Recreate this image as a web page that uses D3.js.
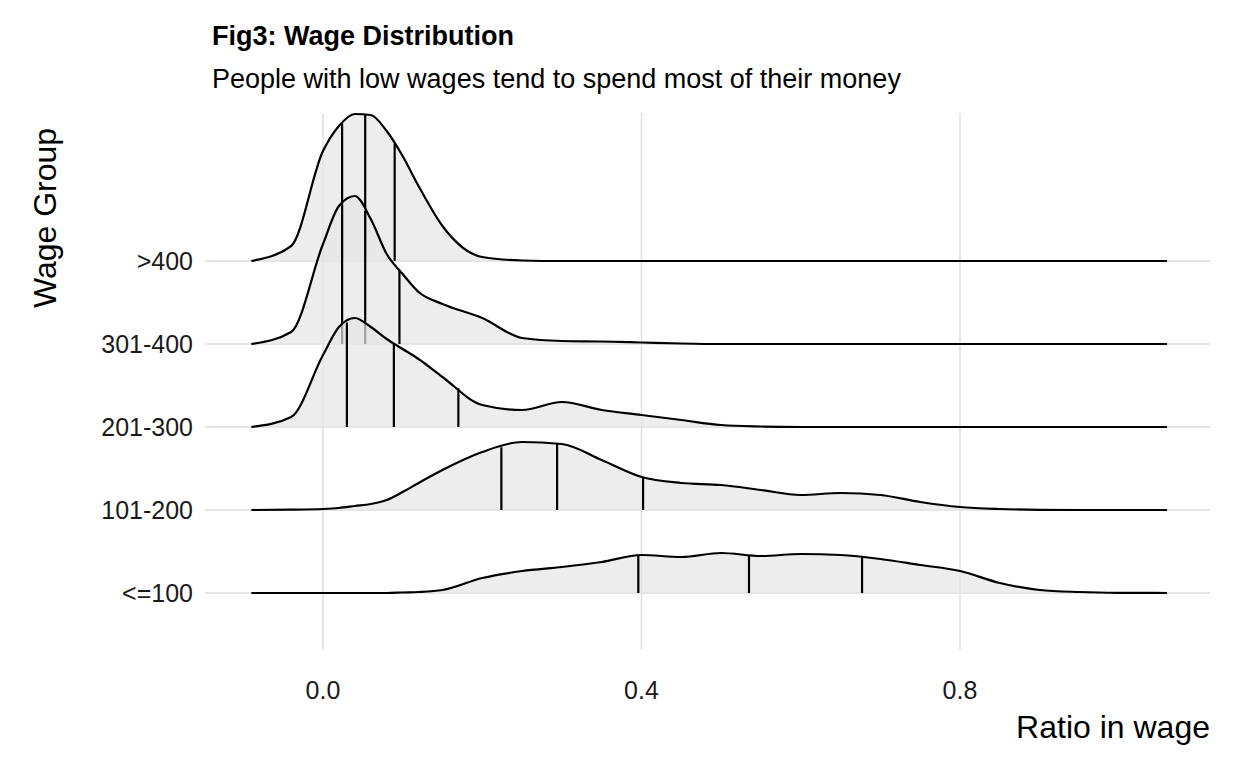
<!DOCTYPE html>
<html><head><meta charset="utf-8">
<script src="https://cdn.jsdelivr.net/npm/d3@7.9.0/dist/d3.min.js"></script>
<style>body{margin:0;background:#fff}text{font-family:"Liberation Sans",Arial,sans-serif}</style>
</head><body><svg id="c" width="1248" height="768"></svg>
<script>
const groups = ['>400', '301-400', '201-300', '101-200', '<=100'];
const xs = [-0.09,-0.04,0,0.02,0.04,0.06,0.08,0.1,0.12,0.15,0.2,0.25,0.3,0.35,0.4,0.45,0.5,0.55,0.6,0.65,0.7,0.75,0.8,0.85,0.9,0.95,1.0,1.06];
const dens = {
  '>400':    [0,15,110,135,147,146,130,105,75,35,4,0.5,0,0,0,0,0,0,0,0,0,0,0,0,0,0,0,0],
  '301-400': [0,12,100,138,148,125,90,70,52,40,26,6,3,2.5,1.5,0.5,0,0,0,0,0,0,0,0,0,0,0,0],
  '201-300': [0,10,72,100,109,100,88,78,68,50,22,17,25,17,12,7,2,0.5,0,0,0,0,0,0,0,0,0,0],
  '101-200': [0,0.3,1,2,4,6,10,18,27,40,58,68,66,50,33,27,25,20,15,17,15,8,3,1,0.2,0,0,0],
  '<=100':   [0,0,0,0,0,0,0,0.5,1,3,15,22,26,31,38,36,40,37,39,38,34,28,22,10,3,1,0.2,0]
};
const quantiles = {
  '>400': [0.024,0.053,0.09],
  '301-400': [0.024,0.053,0.096],
  '201-300': [0.03,0.089,0.17],
  '101-200': [0.224,0.294,0.402],
  '<=100': [0.396,0.535,0.677]
};
const xTicks = [0, 0.4, 0.8];

const svg = d3.select('#c');
const x = d3.scaleLinear().domain([0, 0.8]).range([323, 960]);
const y = d3.scalePoint().domain(groups).range([261, 593]);
const h = d3.scaleLinear().domain([0, 148]).range([0, 148]);

// grid
svg.selectAll('.vg').data(xTicks).join('line')
  .attr('x1', d => x(d)).attr('x2', d => x(d)).attr('y1', 113).attr('y2', 650)
  .attr('stroke', '#dedede').attr('stroke-width', 1.4);
svg.selectAll('.hg').data(groups).join('line')
  .attr('x1', 205).attr('x2', 1210).attr('y1', d => y(d)).attr('y2', d => y(d))
  .attr('stroke', '#dedede').attr('stroke-width', 1.4);

const interp = (g, v) => {
  const d = dens[g];
  for (let i = 0; i < xs.length - 1; i++) {
    if (v >= xs[i] && v <= xs[i + 1]) {
      const t = (v - xs[i]) / (xs[i + 1] - xs[i]);
      return d[i] + t * (d[i + 1] - d[i]);
    }
  }
  return 0;
};

groups.forEach(g => {
  const base = y(g);
  const pts = xs.map((v, i) => [v, dens[g][i]]);
  const area = d3.area().curve(d3.curveMonotoneX)
    .x(d => x(d[0])).y0(base).y1(d => base - h(d[1]));
  const line = d3.line().curve(d3.curveMonotoneX)
    .x(d => x(d[0])).y(d => base - h(d[1]));
  svg.append('path').attr('d', area(pts)).attr('fill', '#e6e6e6').attr('fill-opacity', 0.7);
  svg.selectAll(null).data(quantiles[g]).join('line')
    .attr('x1', d => x(d)).attr('x2', d => x(d))
    .attr('y1', base).attr('y2', d => base - h(interp(g, d)))
    .attr('stroke', '#000').attr('stroke-width', 2.2);
  svg.append('path').attr('d', line(pts)).attr('fill', 'none').attr('stroke', '#000').attr('stroke-width', 2.2);
});

// labels
svg.selectAll('.yl').data(groups).join('text')
  .attr('x', 193).attr('y', d => y(d) + 9).attr('text-anchor', 'end')
  .attr('font-size', 25).attr('fill', '#1a1a1a').text(d => d);
svg.selectAll('.xl').data(xTicks).join('text')
  .attr('x', d => x(d)).attr('y', 699).attr('text-anchor', 'middle')
  .attr('font-size', 25).attr('fill', '#1a1a1a').text(d => d3.format('.1f')(d));

svg.append('text').attr('x', 212).attr('y', 45).attr('font-size', 27).attr('font-weight', 'bold').text('Fig3: Wage Distribution');
svg.append('text').attr('x', 212).attr('y', 88).attr('font-size', 27).text('People with low wages tend to spend most of their money');
svg.append('text').attr('x', 1210).attr('y', 738).attr('text-anchor', 'end').attr('font-size', 32).text('Ratio in wage');
svg.append('text').attr('transform', 'translate(56,218) rotate(-90)').attr('text-anchor', 'middle').attr('font-size', 32).text('Wage Group');
</script></body></html>
